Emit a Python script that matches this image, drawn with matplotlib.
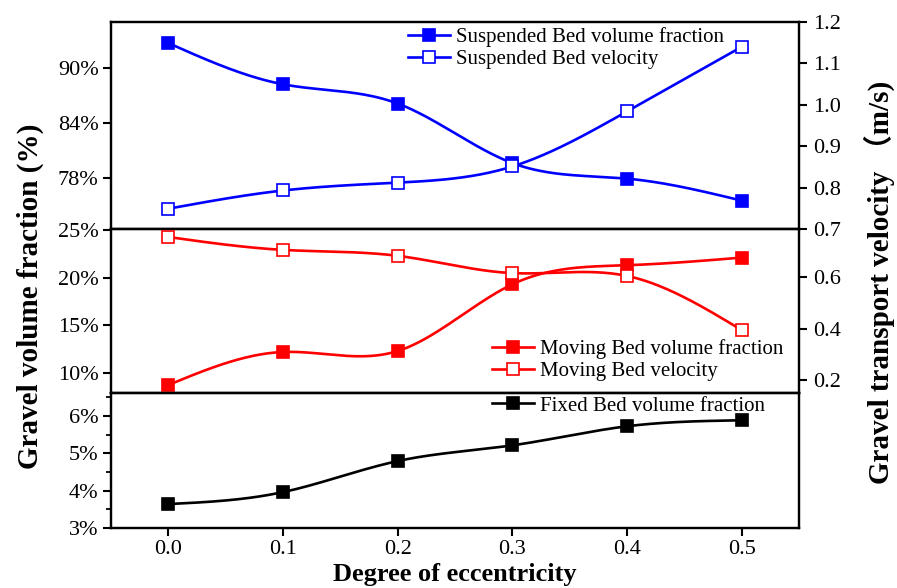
import numpy as np
import matplotlib
matplotlib.use("Agg")
import matplotlib.pyplot as plt
from matplotlib.ticker import MultipleLocator

plt.rcParams["font.family"] = ["Liberation Serif", "Noto Sans CJK SC"]

# data
ecc = [0.0, 0.1, 0.2, 0.3, 0.4, 0.5]
x_ticks = [0.0, 0.1, 0.2, 0.3, 0.4, 0.5]
x_ticklabels = ["0.0", "0.1", "0.2", "0.3", "0.4", "0.5"]

susp_frac = [92.7, 88.2, 86.1, 79.6, 77.9, 75.5]      # %
susp_vel = [0.749, 0.793, 0.812, 0.851, 0.984, 1.140]  # m/s
mov_frac = [8.74, 12.2, 12.3, 19.3, 21.3, 22.1]        # %
mov_vel = [0.755, 0.705, 0.682, 0.615, 0.604, 0.394]   # m/s
fixed_frac = [3.64, 3.96, 4.79, 5.21, 5.72, 5.88]      # %

top_ticks = [78, 84, 90]
top_ticklabels = ["78%", "84%", "90%"]
mid_ticks = [10, 15, 20, 25]
mid_ticklabels = ["10%", "15%", "20%", "25%"]
bot_ticks = [3, 4, 5, 6]
bot_ticklabels = ["3%", "4%", "5%", "6%"]
vel_top_ticks = [0.7, 0.8, 0.9, 1.0, 1.1, 1.2]
vel_top_ticklabels = ["0.7", "0.8", "0.9", "1.0", "1.1", "1.2"]
vel_mid_ticks = [0.2, 0.4, 0.6]
vel_mid_ticklabels = ["0.2", "0.4", "0.6"]


def spline(x, y, n=300):
    # natural cubic spline through the points (only for drawing the smooth line)
    x = np.asarray(x, float)
    y = np.asarray(y, float)
    k = len(x)
    h = np.diff(x)
    A = np.zeros((k, k))
    b = np.zeros(k)
    A[0, 0] = 1
    A[-1, -1] = 1
    for i in range(1, k - 1):
        A[i, i - 1] = h[i - 1]
        A[i, i] = 2 * (h[i - 1] + h[i])
        A[i, i + 1] = h[i]
        b[i] = 6 * ((y[i + 1] - y[i]) / h[i] - (y[i] - y[i - 1]) / h[i - 1])
    M = np.linalg.solve(A, b)
    xs = np.linspace(x[0], x[-1], n)
    idx = np.clip(np.searchsorted(x, xs) - 1, 0, k - 2)
    x0, x1 = x[idx], x[idx + 1]
    hh = x1 - x0
    a = (x1 - xs) / hh
    c = (xs - x0) / hh
    ys = (a * y[idx] + c * y[idx + 1]
          + ((a ** 3 - a) * M[idx] + (c ** 3 - c) * M[idx + 1]) * hh ** 2 / 6)
    return xs, ys


def series(ax, x, y, color, filled, label):
    xs, ys = spline(x, y)
    ax.plot(xs, ys, color=color, lw=1.9, zorder=3)
    ax.plot(x, y, ls="none", marker="s", ms=9,
            mfc=color if filled else "white", mec=color, mew=1.2, zorder=4)
    # legend proxy
    h, = ax.plot([], [], color=color, lw=1.9, marker="s", ms=9,
                 mfc=color if filled else "white", mec=color, mew=1.2, label=label)
    return h


W, H = 897, 588
fig = plt.figure(figsize=(W / 100, H / 100), dpi=100)

left, right = 111 / W, 799 / W
def fy(py):
    return 1 - py / H

ax1 = fig.add_axes([left, fy(229), right - left, fy(22) - fy(229)])
ax2 = fig.add_axes([left, fy(393), right - left, fy(229) - fy(393)])
ax3 = fig.add_axes([left, fy(528), right - left, fy(393) - fy(528)])

for ax in (ax1, ax2, ax3):
    ax.set_xlim(-0.05, 0.55)
    for s in ax.spines.values():
        s.set_linewidth(1.6)
    ax.tick_params(axis="y", which="major", direction="out", length=6, width=1.5,
                   labelsize=16, pad=3)
    ax.tick_params(axis="y", which="minor", direction="out", length=3.5, width=1.3)

ax1.set_ylim(72.4, 95.0)
ax1.set_yticks(top_ticks)
ax1.set_yticklabels(top_ticklabels)
ax2.set_ylim(7.9, 25.1)
ax2.set_yticks(mid_ticks)
ax2.set_yticklabels(mid_ticklabels)
ax3.set_ylim(3.0, 6.61)
ax3.set_yticks(bot_ticks)
ax3.set_yticklabels(bot_ticklabels)
ax3.yaxis.set_minor_locator(MultipleLocator(0.5))

for ax in (ax1, ax2):
    ax.set_xticks([])
ax3.set_xticks(x_ticks)
ax3.set_xticklabels(x_ticklabels)
ax3.tick_params(axis="x", direction="out", length=6, width=1.5, labelsize=16, pad=3)

ax1r = ax1.twinx()
ax2r = ax2.twinx()
ax3r = ax3.twinx()
for ax in (ax1r, ax2r, ax3r):
    ax.set_xlim(-0.05, 0.55)
    for s in ax.spines.values():
        s.set_linewidth(1.6)
    ax.tick_params(axis="y", direction="out", length=6, width=1.5, labelsize=16, pad=4)
ax1r.set_ylim(0.7, 1.2)
ax1r.set_yticks(vel_top_ticks)
ax1r.set_yticklabels(vel_top_ticklabels)
ax2r.set_ylim(0.15, 0.786)
ax2r.set_yticks(vel_mid_ticks)
ax2r.set_yticklabels(vel_mid_ticklabels)
ax3r.set_yticks([])

blue, red = "#0000ff", "#ff0000"
h1 = series(ax1, ecc, susp_frac, blue, True, "Suspended Bed volume fraction")
h2 = series(ax1r, ecc, susp_vel, blue, False, "Suspended Bed velocity")
h3 = series(ax2, ecc, mov_frac, red, True, "Moving Bed volume fraction")
h4 = series(ax2r, ecc, mov_vel, red, False, "Moving Bed velocity")
h5 = series(ax3, ecc, fixed_frac, "black", True, "Fixed Bed volume fraction")

leg_kw = dict(frameon=False, fontsize=15, loc="upper left", borderpad=0,
              borderaxespad=0, handlelength=2.0, handletextpad=0.3,
              labelspacing=0.12, bbox_transform=fig.transFigure)
ax1r.legend(handles=[h1, h2], bbox_to_anchor=(408 / W, fy(27)), **leg_kw)
ax2r.legend(handles=[h3, h4], bbox_to_anchor=(492 / W, fy(339)), **leg_kw)
ax3r.legend(handles=[h5], bbox_to_anchor=(492 / W, fy(396)), **leg_kw)

fig.text(30 / W, fy(296), "Gravel volume fraction (%)", rotation=90,
         ha="center", va="center", fontsize=21, fontweight="bold")
fig.text(879 / W, fy(282), "Gravel transport velocity （m/s)", rotation=90,
         ha="center", va="center", fontsize=21, fontweight="bold",
         family=["Liberation Serif", "Noto Sans CJK SC"])
fig.text((left + right) / 2, fy(575), "Degree of eccentricity",
         ha="center", va="center", fontsize=19, fontweight="bold")

fig.savefig("out.png", dpi=100)
